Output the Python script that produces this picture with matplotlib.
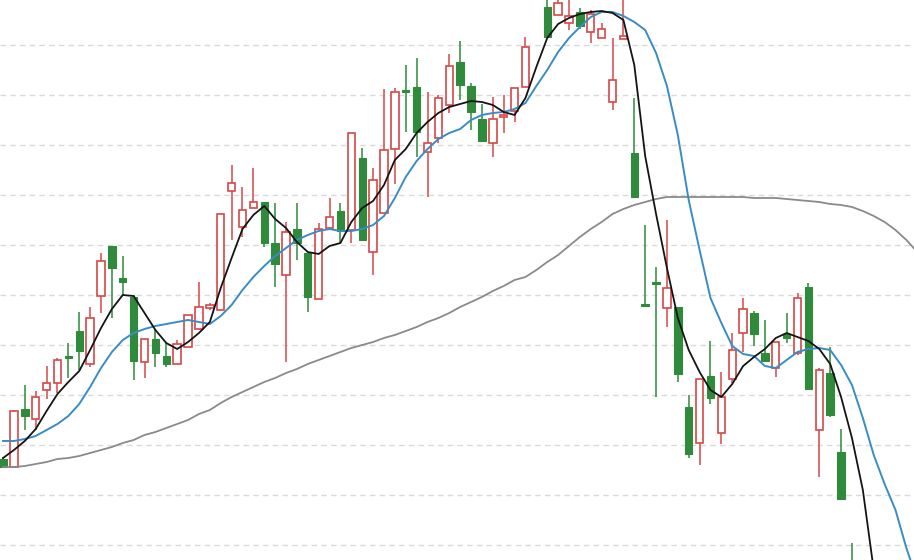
import matplotlib
matplotlib.use("Agg")
import matplotlib.pyplot as plt
import numpy as np

# daily candles (one slot is a gap-up day that sits above the visible window)
opens = [12.72, 12.56, 13.72, 13.52, 14.10, 14.24, 14.76, 15.28, 14.62, 15.98,
         16.98, 16.34, 15.96, 14.66, 15.12, 14.78, 14.62, 14.96, 15.32, 15.74,
         15.70, 18.08, 17.36, 17.74, 17.86, 17.04, 16.40, 17.32, 16.84, 15.92,
         17.34, 17.68, 17.30, 18.74, 16.86, 17.64, 18.92, 20.10, 20.16, 18.86,
         19.14, 19.80, 20.66, 20.18, 19.52, 19.04, 19.56, 19.68, 20.16, 22.10,
         21.76, 21.60, 21.44, 21.66, 21.26, 21.14, 19.86, 21.12, 18.84, 15.82,
         16.26, 15.74, 15.76, 13.76, 13.04, 14.38, 13.24, 14.32, 15.24, 15.64,
         14.84, 14.54, 15.22, 14.84, 16.16, 13.30, 14.44, 12.86, 9.90]
highs = [12.76, 13.70, 14.20, 14.08, 14.58, 14.74, 15.04, 15.66, 15.76, 16.84,
         16.98, 16.78, 16.00, 15.12, 15.32, 15.04, 15.10, 15.60, 16.26, 15.84,
         17.62, 18.60, 18.16, 18.54, 17.86, 17.84, 17.46, 17.84, 16.84, 17.44,
         17.94, 17.84, 19.24, 18.94, 18.54, 20.12, 20.14, 20.60, 20.74, 20.06,
         20.00, 20.82, 21.08, 20.24, 19.82, 19.96, 20.00, 20.14, 21.16, 22.70,
         22.10, 22.10, 22.00, 21.74, 21.70, 21.44, 21.14, 22.00, 19.94, 17.40,
         16.56, 17.50, 15.76, 14.00, 14.32, 15.08, 14.46, 15.24, 15.94, 15.68,
         15.50, 15.06, 15.64, 16.04, 16.24, 14.54, 14.96, 13.32, 11.04]
lows = [12.54, 12.56, 13.30, 13.30, 13.92, 14.04, 14.34, 14.50, 14.56, 15.64,
        15.54, 16.00, 14.30, 14.34, 14.56, 14.56, 14.62, 14.96, 15.30, 15.70,
        15.70, 17.10, 17.16, 17.74, 16.96, 16.16, 14.66, 16.70, 15.66, 15.92,
        17.34, 17.04, 17.04, 17.10, 16.40, 17.64, 18.22, 19.26, 18.76, 17.96,
        19.04, 19.64, 19.90, 19.30, 19.08, 18.76, 19.24, 19.46, 20.16, 22.00,
        21.16, 21.60, 21.30, 21.32, 21.04, 21.14, 19.70, 21.12, 17.96, 15.78,
        13.96, 15.36, 14.26, 12.74, 12.60, 13.82, 13.02, 14.24, 14.86, 14.98,
        14.68, 14.36, 15.04, 14.80, 14.12, 12.36, 13.56, 11.92, 8.90]
closes = [12.56, 13.68, 13.58, 13.96, 14.24, 14.70, 14.74, 14.88, 15.54, 16.68,
          16.54, 16.26, 14.68, 15.12, 14.84, 14.62, 15.02, 15.60, 15.76, 15.80,
          17.62, 18.24, 17.70, 17.86, 17.04, 16.62, 17.26, 17.04, 15.96, 17.32,
          17.56, 17.28, 19.24, 17.10, 18.30, 18.90, 20.06, 20.06, 19.26, 19.04,
          19.94, 20.58, 20.20, 19.66, 19.08, 19.52, 19.60, 20.14, 20.96, 22.50,
          21.16, 21.84, 21.58, 21.38, 21.62, 21.32, 20.30, 21.18, 17.96, 15.78,
          16.22, 16.14, 14.42, 12.82, 14.32, 13.94, 13.96, 14.90, 15.72, 15.22,
          14.68, 15.06, 15.14, 15.94, 14.12, 14.50, 13.60, 11.92, 9.10]

# moving averages
ma_short = [12.74, 12.90, 13.08, 13.32, 13.68, 14.02, 14.26, 14.48, 14.90, 15.34,
            15.72, 16.00, 15.98, 15.64, 15.30, 15.04, 14.92, 15.06, 15.24, 15.46,
            16.14, 16.74, 17.32, 17.60, 17.78, 17.52, 17.34, 17.06, 16.86, 16.82,
            16.98, 17.04, 17.46, 17.74, 17.88, 18.20, 18.70, 18.92, 19.24, 19.46,
            19.64, 19.76, 19.82, 19.88, 19.86, 19.80, 19.66, 19.60, 19.94, 20.56,
            21.14, 21.42, 21.54, 21.62, 21.66, 21.68, 21.64, 21.50, 20.60, 18.78,
            17.62, 16.54, 15.54, 14.90, 14.46, 14.10, 13.96, 14.22, 14.58, 14.76,
            14.92, 15.14, 15.24, 15.16, 15.08, 14.92, 14.62, 13.96, 13.14, 12.10,
            10.50]
ma_mid = [13.08, 13.08, 13.12, 13.18, 13.30, 13.42, 13.58, 13.82, 14.16, 14.54,
          14.86, 15.10, 15.24, 15.32, 15.38, 15.42, 15.46, 15.50, 15.46, 15.42,
          15.58, 15.80, 16.10, 16.36, 16.58, 16.78, 16.94, 17.10, 17.20, 17.28,
          17.32, 17.28, 17.28, 17.32, 17.40, 17.58, 17.94, 18.36, 18.68, 18.92,
          19.12, 19.24, 19.32, 19.50, 19.60, 19.64, 19.66, 19.72, 19.84, 20.18,
          20.50, 20.86, 21.14, 21.36, 21.56, 21.66, 21.66, 21.58, 21.46, 21.30,
          20.84, 20.18, 19.20, 17.90, 16.90, 15.94, 15.44, 14.98, 14.82, 14.78,
          14.58, 14.54, 14.70, 14.86, 14.92, 14.94, 14.90, 14.60, 14.20, 13.54,
          12.80, 12.22, 11.70, 10.94, 10.30]
ma_long = [12.56, 12.56, 12.58, 12.62, 12.66, 12.72, 12.74, 12.78, 12.84, 12.90,
           12.96, 13.04, 13.10, 13.20, 13.26, 13.34, 13.42, 13.50, 13.62, 13.70,
           13.84, 13.96, 14.06, 14.16, 14.26, 14.34, 14.44, 14.52, 14.62, 14.70,
           14.78, 14.86, 14.94, 15.00, 15.06, 15.14, 15.20, 15.28, 15.36, 15.46,
           15.54, 15.64, 15.76, 15.86, 15.96, 16.08, 16.18, 16.30, 16.36, 16.50,
           16.66, 16.80, 16.98, 17.16, 17.32, 17.46, 17.62, 17.72, 17.80, 17.86,
           17.92, 17.96, 17.96, 17.96, 17.96, 17.96, 17.96, 17.96, 17.96, 17.94,
           17.94, 17.94, 17.92, 17.90, 17.88, 17.86, 17.82, 17.80, 17.76, 17.68,
           17.58, 17.46, 17.30, 17.10, 16.86]

UP = "#d64848"
DOWN = "#2f8a3c"

o = np.array(opens)
h = np.array(highs)
l = np.array(lows)
c = np.array(closes)
x = np.arange(len(o))
up = c >= o
dn = ~up
body = np.maximum(np.abs(c - o), 0.04)
width = 0.68

fig = plt.figure(figsize=(9.14, 5.6), dpi=100)
ax = fig.add_axes([0, 0, 1, 1])

# wicks first, bodies on top
ax.vlines(x[up], l[up], h[up], color=UP, linewidth=1.1, zorder=2)
ax.vlines(x[dn], l[dn], h[dn], color=DOWN, linewidth=1.1, zorder=2)
ax.bar(x[up], body[up], bottom=o[up], width=width, facecolor="white",
       edgecolor=UP, linewidth=1.2, zorder=3)
ax.bar(x[dn], body[dn], bottom=np.minimum(o, c)[dn], width=width,
       facecolor=DOWN, edgecolor=DOWN, linewidth=0.8, zorder=3)

ax.plot(np.arange(len(ma_long)), ma_long, color="#8a8a8a", linewidth=1.3, zorder=4)
ax.plot(np.arange(len(ma_mid)), ma_mid, color="#3a8cc4", linewidth=1.4, zorder=5)
ax.plot(np.arange(len(ma_short)), ma_short, color="#141414", linewidth=1.3, zorder=6)

ax.set_xlim(-0.28, 83.7)
ax.set_ylim(10.7, 21.9)
ax.set_yticks(np.arange(11, 22))
ax.set_xticks([])
ax.tick_params(left=False, labelleft=False)
ax.grid(axis="y", linestyle=(0, (4, 3)), color="#dadada", linewidth=1)
ax.set_axisbelow(True)
for s in ax.spines.values():
    s.set_visible(False)

fig.savefig("out.png", dpi=100)
